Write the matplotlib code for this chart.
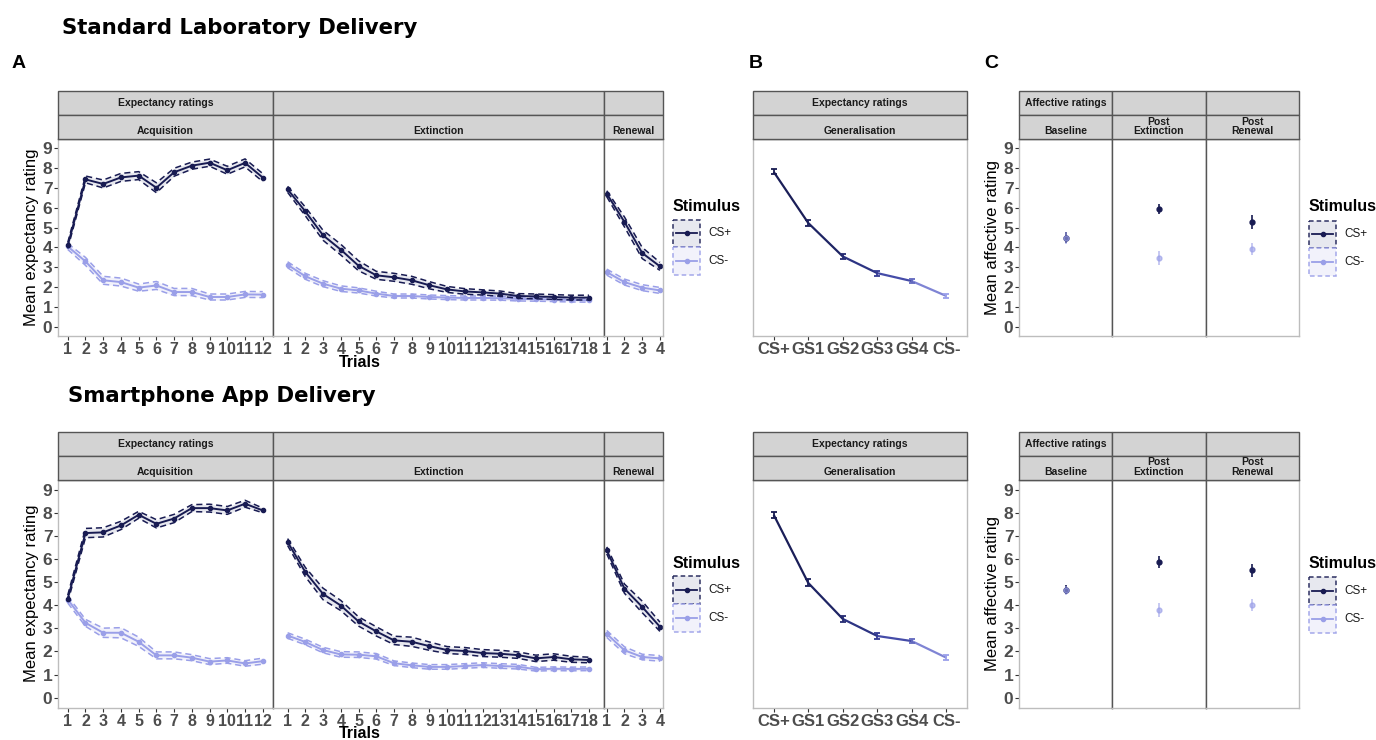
import numpy as np
import matplotlib.pyplot as plt
from matplotlib.patches import Rectangle
from matplotlib.collections import LineCollection
from matplotlib.colors import LinearSegmentedColormap

plt.rcParams['font.family'] = ['Liberation Sans', 'DejaVu Sans']
plt.rcParams['font.weight'] = 'bold'

W, H = 1376, 740

# ---------------- data ----------------
acq_trials = list(range(1, 13))
ext_trials = list(range(1, 19))
ren_trials = list(range(1, 5))
stim_groups = ['CS+', 'GS1', 'GS2', 'GS3', 'GS4', 'CS-']
affect_phases = ['Baseline', 'Post\nExtinction', 'Post\nRenewal']

# standard laboratory delivery
lab_acq_csp = [4.1, 7.42, 7.19, 7.52, 7.61, 7.0, 7.78, 8.11, 8.26, 7.88, 8.25, 7.51]
lab_acq_csp_se = [0.15, 0.17, 0.2, 0.2, 0.2, 0.25, 0.2, 0.18, 0.18, 0.2, 0.2, 0.2]
lab_acq_csm = [4.05, 3.3, 2.35, 2.26, 1.98, 2.09, 1.76, 1.76, 1.51, 1.51, 1.64, 1.63]
lab_acq_csm_se = [0.15, 0.2, 0.2, 0.2, 0.18, 0.2, 0.18, 0.18, 0.15, 0.15, 0.15, 0.15]
lab_ext_csp = [6.92, 5.81, 4.61, 3.89, 3.08, 2.6, 2.5, 2.35, 2.1, 1.89, 1.79, 1.74,
               1.68, 1.56, 1.54, 1.51, 1.48, 1.48]
lab_ext_csp_se = [0.15, 0.22, 0.25, 0.27, 0.25, 0.2, 0.2, 0.2, 0.18, 0.15, 0.14, 0.13,
                  0.13, 0.12, 0.12, 0.12, 0.12, 0.12]
lab_ext_csm = [3.13, 2.55, 2.18, 1.93, 1.84, 1.68, 1.56, 1.56, 1.51, 1.48, 1.46, 1.46,
               1.45, 1.41, 1.4, 1.38, 1.36, 1.35]
lab_ext_csm_se = [0.15, 0.15, 0.15, 0.14, 0.13, 0.12, 0.1, 0.1, 0.1, 0.1, 0.1, 0.1,
                  0.1, 0.1, 0.1, 0.1, 0.1, 0.1]
lab_ren_csp = [6.7, 5.28, 3.72, 3.05]
lab_ren_csp_se = [0.15, 0.25, 0.28, 0.2]
lab_ren_csm = [2.76, 2.26, 1.98, 1.84]
lab_ren_csm_se = [0.15, 0.15, 0.15, 0.15]
lab_gen = [7.8, 5.23, 3.55, 2.71, 2.31, 1.56]
lab_gen_se = [0.12, 0.15, 0.13, 0.12, 0.1, 0.1]
lab_aff_csp = [4.5, 5.93, 5.26]
lab_aff_csp_se = [0.3, 0.27, 0.35]
lab_aff_csm = [4.48, 3.47, 3.92]
lab_aff_csm_se = [0.3, 0.33, 0.3]

# smartphone app delivery
app_acq_csp = [4.29, 7.13, 7.16, 7.46, 7.92, 7.53, 7.76, 8.21, 8.21, 8.11, 8.4, 8.11]
app_acq_csp_se = [0.15, 0.2, 0.2, 0.18, 0.15, 0.18, 0.18, 0.15, 0.17, 0.17, 0.15, 0.1]
app_acq_csm = [4.25, 3.24, 2.81, 2.81, 2.42, 1.83, 1.83, 1.73, 1.56, 1.61, 1.48, 1.58]
app_acq_csm_se = [0.15, 0.15, 0.2, 0.22, 0.2, 0.15, 0.15, 0.13, 0.13, 0.12, 0.12, 0.13]
app_ext_csp = [6.74, 5.44, 4.49, 3.99, 3.3, 2.87, 2.48, 2.42, 2.23, 2.06, 2.02, 1.93,
               1.9, 1.84, 1.7, 1.76, 1.66, 1.63]
app_ext_csp_se = [0.15, 0.2, 0.25, 0.22, 0.2, 0.2, 0.18, 0.2, 0.18, 0.15, 0.15, 0.15,
                  0.15, 0.14, 0.14, 0.14, 0.13, 0.12]
app_ext_csm = [2.69, 2.41, 2.06, 1.87, 1.86, 1.79, 1.49, 1.4, 1.33, 1.33, 1.37, 1.41,
               1.37, 1.34, 1.23, 1.25, 1.24, 1.25]
app_ext_csm_se = [0.12, 0.12, 0.12, 0.12, 0.12, 0.12, 0.1, 0.1, 0.1, 0.1, 0.1, 0.1,
                  0.1, 0.1, 0.08, 0.08, 0.08, 0.08]
app_ren_csp = [6.38, 4.72, 3.93, 3.07]
app_ren_csp_se = [0.15, 0.2, 0.25, 0.2]
app_ren_csm = [2.76, 2.05, 1.76, 1.7]
app_ren_csm_se = [0.15, 0.15, 0.12, 0.12]
app_gen = [7.92, 4.97, 3.41, 2.67, 2.45, 1.73]
app_gen_se = [0.12, 0.15, 0.13, 0.12, 0.1, 0.1]
app_aff_csp = [4.67, 5.87, 5.51]
app_aff_csp_se = [0.2, 0.27, 0.28]
app_aff_csm = [4.65, 3.79, 4.01]
app_aff_csm_se = [0.2, 0.3, 0.26]

# ---------------- style ----------------
CSP = '#181b52'
CSM = '#9a9fe8'
CSP_FILL = '#e5e6ee'
CSM_FILL = '#f1f1fb'
DARK_LINE = '#555555'
LIGHT_LINE = '#bdbdbd'
TICK_COL = '#4d4d4d'
gen_cmap = LinearSegmentedColormap.from_list('gen', [CSP, '#1f2566', '#3b42a0', '#9ba0ea'])

fig = plt.figure(figsize=(W / 100, H / 100), dpi=100)


def px_axes(x0, x1, y0, y1):
    return fig.add_axes([x0 / W, 1 - y1 / H, (x1 - x0) / W, (y1 - y0) / H])


def style_facet(ax, left_dark, right_dark, show_y):
    ax.set_ylim(-0.45, 9.45)
    ax.set_yticks(range(10))
    ax.spines['left'].set_color(DARK_LINE if left_dark else LIGHT_LINE)
    ax.spines['right'].set_color(DARK_LINE if right_dark else LIGHT_LINE)
    ax.spines['top'].set_color(DARK_LINE)
    ax.spines['bottom'].set_color(LIGHT_LINE)
    for s in ax.spines.values():
        s.set_linewidth(1.0)
    ax.tick_params(axis='both', length=3, color='#333333', labelcolor=TICK_COL, pad=1)
    ax.tick_params(axis='y', labelsize=12.5)
    ax.tick_params(axis='x', labelsize=11.5)
    if not show_y:
        ax.tick_params(axis='y', left=False, labelleft=False)


def draw_trials(ax, x, csp, csp_se, csm, csm_se):
    x = np.asarray(x)
    for mean, se, col, fill in [(csm, csm_se, CSM, CSM_FILL), (csp, csp_se, CSP, CSP_FILL)]:
        mean = np.asarray(mean)
        se = np.asarray(se)
        ax.fill_between(x, mean - se, mean + se, color=fill, lw=0, alpha=0.9)
        ax.plot(x, mean - se, color=col, lw=1.1, ls=(0, (4, 2.5)))
        ax.plot(x, mean + se, color=col, lw=1.1, ls=(0, (4, 2.5)))
        ax.plot(x, mean, color=col, lw=1.4, marker='o', ms=3)
    pad = 0.05 * (x.max() - x.min())
    ax.set_xlim(x.min() - pad, x.max() + pad)
    ax.set_xticks(x)


def draw_row(top, bottom, d):
    # panel A
    x0 = 58
    unit = 17.73
    edges = [x0]
    for tr in [acq_trials, ext_trials, ren_trials]:
        edges.append(edges[-1] + unit * (len(tr) - 1) * 1.1)
    sets = [(acq_trials, d['acq']), (ext_trials, d['ext']), (ren_trials, d['ren'])]
    for i, (tr, vals) in enumerate(sets):
        ax = px_axes(edges[i], edges[i + 1], top, bottom)
        draw_trials(ax, tr, *vals)
        style_facet(ax, i > 0, i < 2, i == 0)
        if i == 0:
            ax.set_ylabel('Mean expectancy rating', fontsize=12, labelpad=3)
    # panel B
    axb = px_axes(753, 967, top, bottom)
    xs = np.arange(len(stim_groups))
    gen = np.asarray(d['gen'])
    cols = gen_cmap(xs / (len(xs) - 1))
    segs = [[(xs[i], gen[i]), (xs[i + 1], gen[i + 1])] for i in range(len(xs) - 1)]
    seg_cols = gen_cmap((xs[:-1] + 0.5) / (len(xs) - 1))
    axb.add_collection(LineCollection(segs, colors=seg_cols, linewidths=1.6))
    for i in range(len(xs)):
        axb.errorbar(xs[i], gen[i], yerr=d['gen_se'][i], color=cols[i], capsize=2.5,
                     elinewidth=1.3, capthick=1.3)
    axb.set_xlim(-0.6, len(xs) - 0.4)
    axb.set_xticks(xs)
    axb.set_xticklabels(stim_groups)
    style_facet(axb, False, False, False)
    axb.tick_params(axis='x', labelsize=12)
    # panel C
    cx = [1019, 1112.3, 1205.7, 1299]
    for i in range(3):
        ax = px_axes(cx[i], cx[i + 1], top, bottom)
        ax.errorbar(0, d['aff_csp'][i], yerr=d['aff_csp_se'][i], fmt='o', ms=3.5,
                    color=CSP, elinewidth=1.2)
        ax.errorbar(0, d['aff_csm'][i], yerr=d['aff_csm_se'][i], fmt='o', ms=3.5,
                    color=CSM, elinewidth=1.2, alpha=0.65)
        ax.set_xlim(-0.6, 0.6)
        ax.set_xticks([])
        style_facet(ax, i > 0, i < 2, i == 0)
        if i == 0:
            ax.set_ylabel('Mean affective rating', fontsize=12, labelpad=3)
    return edges


lab = dict(acq=(lab_acq_csp, lab_acq_csp_se, lab_acq_csm, lab_acq_csm_se),
           ext=(lab_ext_csp, lab_ext_csp_se, lab_ext_csm, lab_ext_csm_se),
           ren=(lab_ren_csp, lab_ren_csp_se, lab_ren_csm, lab_ren_csm_se),
           gen=lab_gen, gen_se=lab_gen_se,
           aff_csp=lab_aff_csp, aff_csp_se=lab_aff_csp_se,
           aff_csm=lab_aff_csm, aff_csm_se=lab_aff_csm_se)
app = dict(acq=(app_acq_csp, app_acq_csp_se, app_acq_csm, app_acq_csm_se),
           ext=(app_ext_csp, app_ext_csp_se, app_ext_csm, app_ext_csm_se),
           ren=(app_ren_csp, app_ren_csp_se, app_ren_csm, app_ren_csm_se),
           gen=app_gen, gen_se=app_gen_se,
           aff_csp=app_aff_csp, aff_csp_se=app_aff_csp_se,
           aff_csm=app_aff_csm, aff_csm_se=app_aff_csm_se)

rows = [(91, 115, 139, 336, lab), (432, 455.5, 479.5, 708, app)]
edges_rows = []
for s_top, s_mid, top, bottom, d in rows:
    edges_rows.append(draw_row(top, bottom, d))

# ---------------- overlay: strips, titles, legends ----------------
ov = fig.add_axes([0, 0, 1, 1], zorder=10)
ov.set_xlim(0, W)
ov.set_ylim(H, 0)
ov.axis('off')
ov.patch.set_alpha(0)


def strip(x0, x1, y0, y1, label, va='center'):
    ov.add_patch(Rectangle((x0, y0), x1 - x0, y1 - y0, facecolor='#d3d3d3',
                           edgecolor=DARK_LINE, lw=1.0))
    if label:
        if va == 'center':
            ov.text((x0 + x1) / 2, (y0 + y1) / 2, label, ha='center', va='center',
                    fontsize=7.5, color='#1a1a1a', linespacing=1.0)
        else:
            ov.text((x0 + x1) / 2, y1 - 2.5, label, ha='center', va='bottom',
                    fontsize=7.5, color='#1a1a1a', linespacing=0.95)


def legend(x, y_title, y_key):
    ov.text(x, y_title, 'Stimulus', fontsize=11.5, va='center', ha='left', color='black')
    for i, (lab_txt, col, fill) in enumerate([('CS+', CSP, CSP_FILL), ('CS-', CSM, CSM_FILL)]):
        ky = y_key + i * 27.8
        ov.add_patch(Rectangle((x, ky), 27, 27.8, facecolor=fill, edgecolor=col,
                               lw=1.1, ls=(0, (3, 2)), alpha=0.9))
        ov.plot([x + 3, x + 24], [ky + 13.9, ky + 13.9], color=col, lw=1.3)
        ov.plot([x + 13.5], [ky + 13.9], 'o', color=col, ms=3)
        ov.text(x + 35, ky + 13.9, lab_txt, fontsize=8.5, fontweight='normal',
                va='center', ha='left', color='#1a1a1a')


for (s_top, s_mid, top, bottom, d), edges in zip(rows, edges_rows):
    a_labels = ['Expectancy ratings', '', '']
    b_labels = ['Acquisition', 'Extinction', 'Renewal']
    for i in range(3):
        strip(edges[i], edges[i + 1], s_top, s_mid, a_labels[i])
        strip(edges[i], edges[i + 1], s_mid, top, b_labels[i], va='bottom')
    strip(753, 967, s_top, s_mid, 'Expectancy ratings')
    strip(753, 967, s_mid, top, 'Generalisation', va='bottom')
    cx = [1019, 1112.3, 1205.7, 1299]
    c_top = ['Affective ratings', '', '']
    for i in range(3):
        strip(cx[i], cx[i + 1], s_top, s_mid, c_top[i])
        strip(cx[i], cx[i + 1], s_mid, top, affect_phases[i], va='bottom')
    ov.text((edges[0] + edges[-1]) / 2, min(bottom + 31, H - 2), 'Trials', fontsize=11.5,
            ha='center', va='baseline', color='black')
    legend(673, (s_top + bottom) / 2 - 7, (s_top + bottom) / 2 + 6)
    legend(1309, (s_top + bottom) / 2 - 7, (s_top + bottom) / 2 + 7)

ov.text(62, 28, 'Standard Laboratory Delivery', fontsize=15.3, family='DejaVu Sans',
        fontweight='bold', va='center', ha='left', color='black')
ov.text(68, 396, 'Smartphone App Delivery', fontsize=15.3, family='DejaVu Sans',
        fontweight='bold', va='center', ha='left', color='black')
for lx, letter in [(12, 'A'), (749, 'B'), (984, 'C')]:
    ov.text(lx, 63, letter, fontsize=14, va='center', ha='left', color='black')

fig.savefig('out.png', dpi=100)
